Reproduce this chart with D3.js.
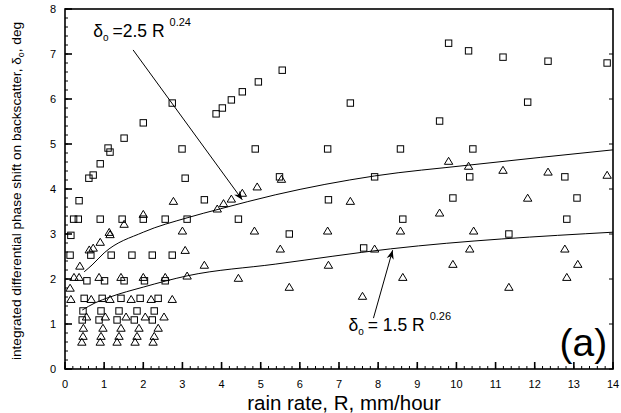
<!DOCTYPE html>
<html><head><meta charset="utf-8">
<script src="https://cdn.jsdelivr.net/npm/d3@7"></script>
<style>body{margin:0;background:#fff}svg{display:block}text{font-family:"Liberation Sans",Arial,Helvetica,sans-serif;fill:#000}</style>
</head><body><svg id="c" width="621" height="413"></svg>
<script>
// ---- data (R mm/hour, delta deg) ----
const squares = [
 [0.36,3.74],[0.61,4.24],[0.72,4.31],[0.90,4.56],[1.10,4.91],[1.15,4.82],[1.51,5.13],[2.00,5.47],[2.74,5.91],[2.99,4.89],[3.07,4.24],
 [3.86,5.67],[4.02,5.80],[4.25,5.98],[4.53,6.16],[4.94,6.38],[5.55,6.64],
 [7.29,5.91],[4.86,4.89],[6.71,4.89],[8.57,4.89],[5.48,4.27],[7.91,4.27],
 [9.80,7.24],[10.31,7.07],[11.19,6.93],[12.34,6.84],[13.85,6.80],[11.82,5.93],[9.57,5.51],[10.42,4.89],[10.34,4.27],[12.77,4.27],[9.91,3.80],[13.08,3.80],
 [8.63,3.33],[12.82,3.33],[11.34,3.00],
 [6.73,3.76],[5.73,3.00],[7.63,2.69],
 [3.56,3.76],[4.43,3.33],
 [0.22,3.33],[0.34,3.33],[0.90,3.33],[1.46,3.33],[2.00,3.33],[2.56,3.33],[3.12,3.33],
 [0.15,2.97],
 [0.13,2.53],[0.66,2.53],[1.18,2.53],[1.71,2.53],[2.23,2.53],[2.74,2.53],
 [0.56,1.96],[1.01,1.96],[1.51,1.96],[2.03,1.96],[2.56,1.96],
 [0.49,1.57],[0.95,1.57],[1.43,1.57],[1.92,1.57],[2.38,1.57],
 [0.46,1.29],[0.92,1.29],[1.38,1.29],[1.84,1.29],[2.28,1.29],
 [0.44,1.09],[0.87,1.09],[1.33,1.09],[1.77,1.09],[2.23,1.09]
];
const triangles = [
 [2.00,3.44],[1.51,3.22],[1.13,3.04],[1.15,2.99],[0.90,2.82],[0.62,2.65],[0.72,2.69],[0.38,2.29],
 [0.23,2.04],[0.36,2.04],[0.87,2.04],[1.43,2.04],[2.00,2.04],[2.56,2.04],
 [0.13,1.80],
 [0.15,1.55],[0.67,1.55],[1.15,1.55],[1.69,1.55],[2.20,1.55],[2.74,1.55],
 [0.55,1.16],[1.03,1.16],[1.56,1.16],[2.05,1.16],[2.53,1.16],
 [0.47,0.91],[0.97,0.91],[1.43,0.91],[1.89,0.91],[2.38,0.91],
 [0.46,0.73],[0.92,0.73],[1.38,0.73],[1.84,0.73],[2.28,0.73],
 [0.43,0.60],[0.90,0.60],[1.33,0.60],[1.79,0.60],[2.25,0.60],
 [3.00,3.07],[3.07,2.64],[3.12,2.07],[2.77,3.73],
 [3.89,3.56],[4.05,3.68],[4.25,3.78],[4.53,3.91],[4.91,4.05],[4.84,3.07],[3.56,2.31],[4.43,2.02],
 [5.53,4.22],[7.29,3.73],[6.71,3.07],[8.57,3.07],[5.50,2.67],[7.91,2.67],[6.73,2.31],[8.63,2.04],[5.73,1.82],[7.60,1.62],
 [9.80,4.62],[10.31,4.51],[11.19,4.42],[12.34,4.38],[13.85,4.31],[11.82,3.80],[9.57,3.47],[10.44,3.07],[10.34,2.67],[12.77,2.67],[9.91,2.33],[13.10,2.33],[12.82,2.04],[11.34,1.82]
];
// fit curves
const fitUpper = [[0.49,2.16],[0.69,2.31],[1.0,2.58],[2.0,3.04],[3.12,3.36],[3.97,3.56],[5.37,3.87],[7.91,4.29],[10.31,4.53],[14.0,4.87]];
const fitLower = [[0.44,1.31],[0.77,1.47],[1.15,1.60],[2.0,1.82],[3.12,2.07],[5.37,2.33],[8.32,2.67],[14.0,3.04]];
const xTicks = [0,1,2,3,4,5,6,7,8,9,10,11,12,13,14];
const yTicks = [0,1,2,3,4,5,6,7,8];

const svg = d3.select("#c");
const L=65,R=613,T=9,B=369;
const x = d3.scaleLinear().domain([0,14]).range([L,R]);
const y = d3.scaleLinear().domain([0,8]).range([B,T]);

// axes
const xMinor = d3.range(0,14.001,0.2);
const yMinor = d3.range(0,8.001,0.2);
const g = svg.append("g").attr("stroke","#000").attr("fill","none");
g.selectAll(".xm").data(xMinor).join("line").attr("x1",d=>x(d)).attr("x2",d=>x(d)).attr("y1",B).attr("y2",B-3).attr("stroke-width",1);
g.selectAll(".xM").data(xTicks).join("line").attr("x1",d=>x(d)).attr("x2",d=>x(d)).attr("y1",B).attr("y2",B-7).attr("stroke-width",1.6);
g.selectAll(".ym").data(yMinor).join("line").attr("y1",d=>y(d)).attr("y2",d=>y(d)).attr("x1",L).attr("x2",L+3).attr("stroke-width",1);
g.selectAll(".yM").data(yTicks).join("line").attr("y1",d=>y(d)).attr("y2",d=>y(d)).attr("x1",L).attr("x2",L+7).attr("stroke-width",1.6);
g.selectAll(".yR").data(yTicks).join("line").attr("y1",d=>y(d)).attr("y2",d=>y(d)).attr("x1",R).attr("x2",R-4).attr("stroke-width",1);
g.append("rect").attr("x",L).attr("y",T).attr("width",R-L).attr("height",B-T).attr("stroke-width",1.6);

svg.selectAll(".xt").data(xTicks).join("text").attr("x",d=>x(d)).attr("y",B+19).attr("text-anchor","middle").attr("font-size",11).text(d=>d);
svg.selectAll(".yt").data(yTicks).join("text").attr("x",L-9).attr("y",d=>y(d)+4).attr("text-anchor","end").attr("font-size",11).text(d=>d);

svg.append("text").attr("x",344).attr("y",410).attr("text-anchor","middle").attr("font-size",20.5).text("rain rate, R, mm/hour");
const yl = svg.append("text").attr("transform",`translate(21,${(T+B)/2+2}) rotate(-90)`).attr("text-anchor","middle").attr("font-size",13.6);
yl.append("tspan").text("integrated differential phase shift on backscatter, δ");
yl.append("tspan").attr("font-size",9).attr("dy",3).text("o");
yl.append("tspan").attr("dy",-3).text(", deg");

// fit curves
const line = d3.line().x(d=>x(d[0])).y(d=>y(d[1])).curve(d3.curveMonotoneX);
svg.append("path").datum(fitUpper).attr("d",line).attr("fill","none").attr("stroke","#000").attr("stroke-width",1);
svg.append("path").datum(fitLower).attr("d",line).attr("fill","none").attr("stroke","#000").attr("stroke-width",1);

// markers
svg.selectAll(".sq").data(squares).join("rect")
 .attr("x",d=>x(d[0])-3.2).attr("y",d=>y(d[1])-3.2).attr("width",6.4).attr("height",6.4)
 .attr("fill","none").attr("stroke","#000").attr("stroke-width",1);
svg.selectAll(".tr").data(triangles).join("path")
 .attr("transform",d=>`translate(${x(d[0])},${y(d[1])})`)
 .attr("d","M0,-3.8L4.2,3.2L-4.2,3.2Z").attr("fill","none").attr("stroke","#000").attr("stroke-width",1);

// arrows
const defs = svg.append("defs");
defs.append("marker").attr("id","ah").attr("viewBox","0 0 10 10").attr("refX",10).attr("refY",5)
 .attr("markerWidth",9).attr("markerHeight",9).attr("markerUnits","userSpaceOnUse").attr("orient","auto")
 .append("path").attr("d","M0,1L10,5L0,9L3,5Z").attr("fill","#000");
const arrows = [[[1.74,7.09],[4.53,3.76]],[[7.88,1.13],[8.37,2.64]]];
svg.selectAll(".ar").data(arrows).join("line")
 .attr("x1",d=>x(d[0][0])).attr("y1",d=>y(d[0][1])).attr("x2",d=>x(d[1][0])).attr("y2",d=>y(d[1][1]))
 .attr("stroke","#000").attr("stroke-width",1).attr("marker-end","url(#ah)");

// equation labels
function eq(px,py,coef,expo){
 const t = svg.append("text").attr("x",px).attr("y",py).attr("font-size",17.5);
 t.append("tspan").text("δ");
 t.append("tspan").attr("font-size",10).attr("dy",4).text("o");
 t.append("tspan").attr("dy",-4).attr("dx",4).text(coef);
 t.append("tspan").attr("font-size",11).attr("dy",-11).attr("dx",5).text(expo);
}
eq(x(0.72),y(7.37),"=2.5 R","0.24");
eq(x(7.24),y(0.84),"= 1.5 R","0.26");
svg.append("text").attr("x",x(13.85)).attr("y",y(0.28)).attr("text-anchor","end").attr("font-size",39).text("(a)");
</script></body></html>
